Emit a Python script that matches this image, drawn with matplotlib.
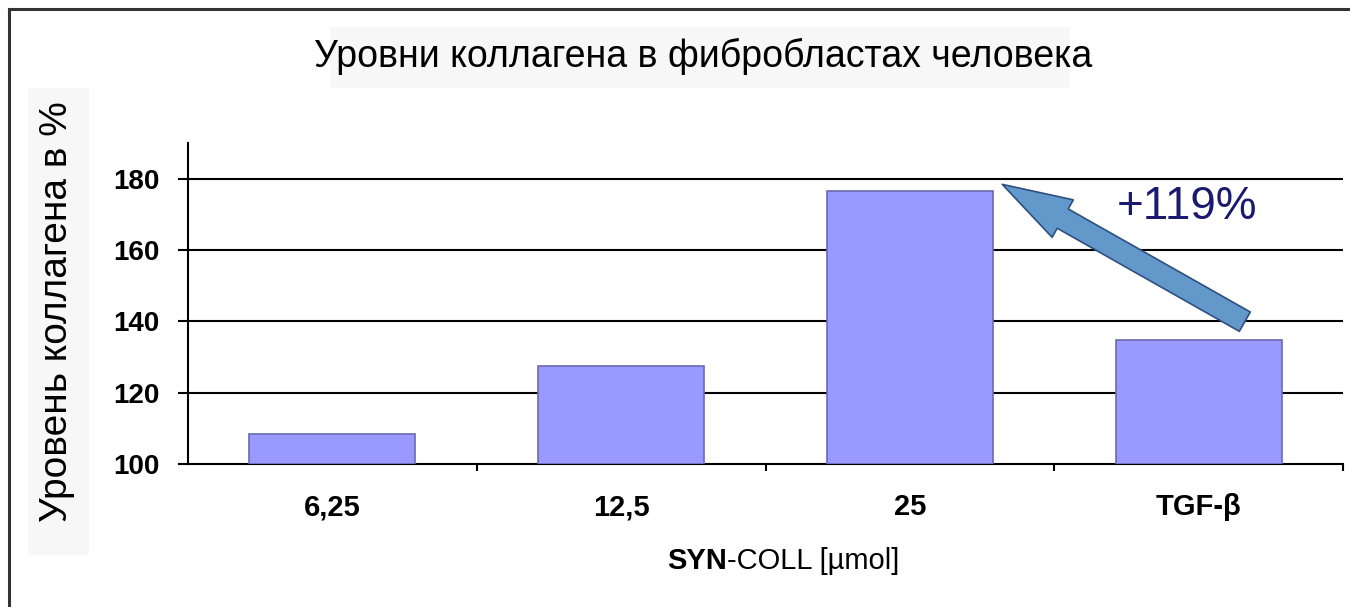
import numpy as np
import matplotlib.pyplot as plt
from matplotlib.patches import Rectangle, FancyArrowPatch
from matplotlib.lines import Line2D

plt.rcParams['font.family'] = ['Liberation Sans', 'DejaVu Sans']

# Data
categories = ["6,25", "12,5", "25", "TGF-β"]
collagen = [108.3, 127.5, 176.6, 134.8]
y_ticks = [100, 120, 140, 160, 180]

W, H = 1350, 607
fig = plt.figure(figsize=(W / 100, H / 100), dpi=100)
fig.patch.set_facecolor("white")


def fx(px):
    return px / W


def fy(py):
    return 1 - py / H


# Outer frame (only top and left are visible in the crop)
fig.add_artist(Line2D([fx(9), fx(9)], [fy(9), 0], color="#333333", lw=2.2, transform=fig.transFigure))
fig.add_artist(Line2D([fx(9), 1], [fy(9), fy(9)], color="#333333", lw=2.2, transform=fig.transFigure))

# Light grey boxes behind title and y label
fig.add_artist(Rectangle((fx(330), fy(88)), fx(1070) - fx(330), fy(27) - fy(88),
                         transform=fig.transFigure, facecolor="#f7f7f7", edgecolor="none", zorder=0))
fig.add_artist(Rectangle((fx(28), fy(555)), fx(89) - fx(28), fy(88) - fy(555),
                         transform=fig.transFigure, facecolor="#f7f7f7", edgecolor="none", zorder=0))

fig.text(fx(703), fy(67), "Уровни коллагена в фибробластах человека",
         ha="center", va="baseline", fontsize=27, color="black")
fig.text(fx(57), fy(312), "Уровень коллагена в %", rotation=90,
         ha="center", va="center", fontsize=28, color="black")

ax = fig.add_axes([fx(188), fy(464), fx(1343) - fx(188), fy(143) - fy(464)])
ax.set_facecolor("none")

x = np.arange(len(categories))
ax.bar(x, np.array(collagen) - 100, bottom=100, width=0.575,
       color="#9999ff", edgecolor="#6a6ab0", linewidth=1.2, zorder=3)

ax.set_xlim(-0.5, 3.5)
ax.set_ylim(100, 190)

ax.set_yticks(y_ticks)
ax.set_yticklabels([str(v) for v in y_ticks], fontsize=20, fontweight="bold")
ax.tick_params(axis="y", length=7.5, width=1.5, direction="out", pad=13)
for v in y_ticks[1:]:
    ax.axhline(v, color="black", lw=1.5, zorder=1)

ax.set_xticks([0.5, 1.5, 2.5, 3.5])
ax.set_xticklabels([])
ax.tick_params(axis="x", which="major", length=5, width=1.5, direction="out")
ax.set_xticks(x, minor=True)
ax.set_xticklabels(categories, minor=True, fontsize=21, fontweight="bold")
ax.tick_params(axis="x", which="minor", length=0, pad=21)

for side in ["top", "right"]:
    ax.spines[side].set_visible(False)
for side in ["left", "bottom"]:
    ax.spines[side].set_linewidth(1.5)
    ax.spines[side].set_color("black")

fig.text(fx(727), fy(561), "SYN", ha="right", va="center", fontsize=21, fontweight="bold")
fig.text(fx(727), fy(561), "-COLL [µmol]", ha="left", va="center", fontsize=21)

# Arrow from TGF-β up to the 25 bar
arrow = FancyArrowPatch((3.16, 139.9), (2.32, 178.4),
                        arrowstyle="simple,head_width=31,head_length=50,tail_width=16",
                        mutation_scale=1, shrinkA=0, shrinkB=0,
                        facecolor="#6398cb", edgecolor="#2e4f80",
                        linewidth=1.2, zorder=5)
ax.add_patch(arrow)
ax.text(2.96, 172.1, "+119%", ha="center", va="center", fontsize=33, color="#1a1a70", zorder=6)

fig.savefig("out.png", dpi=100)
